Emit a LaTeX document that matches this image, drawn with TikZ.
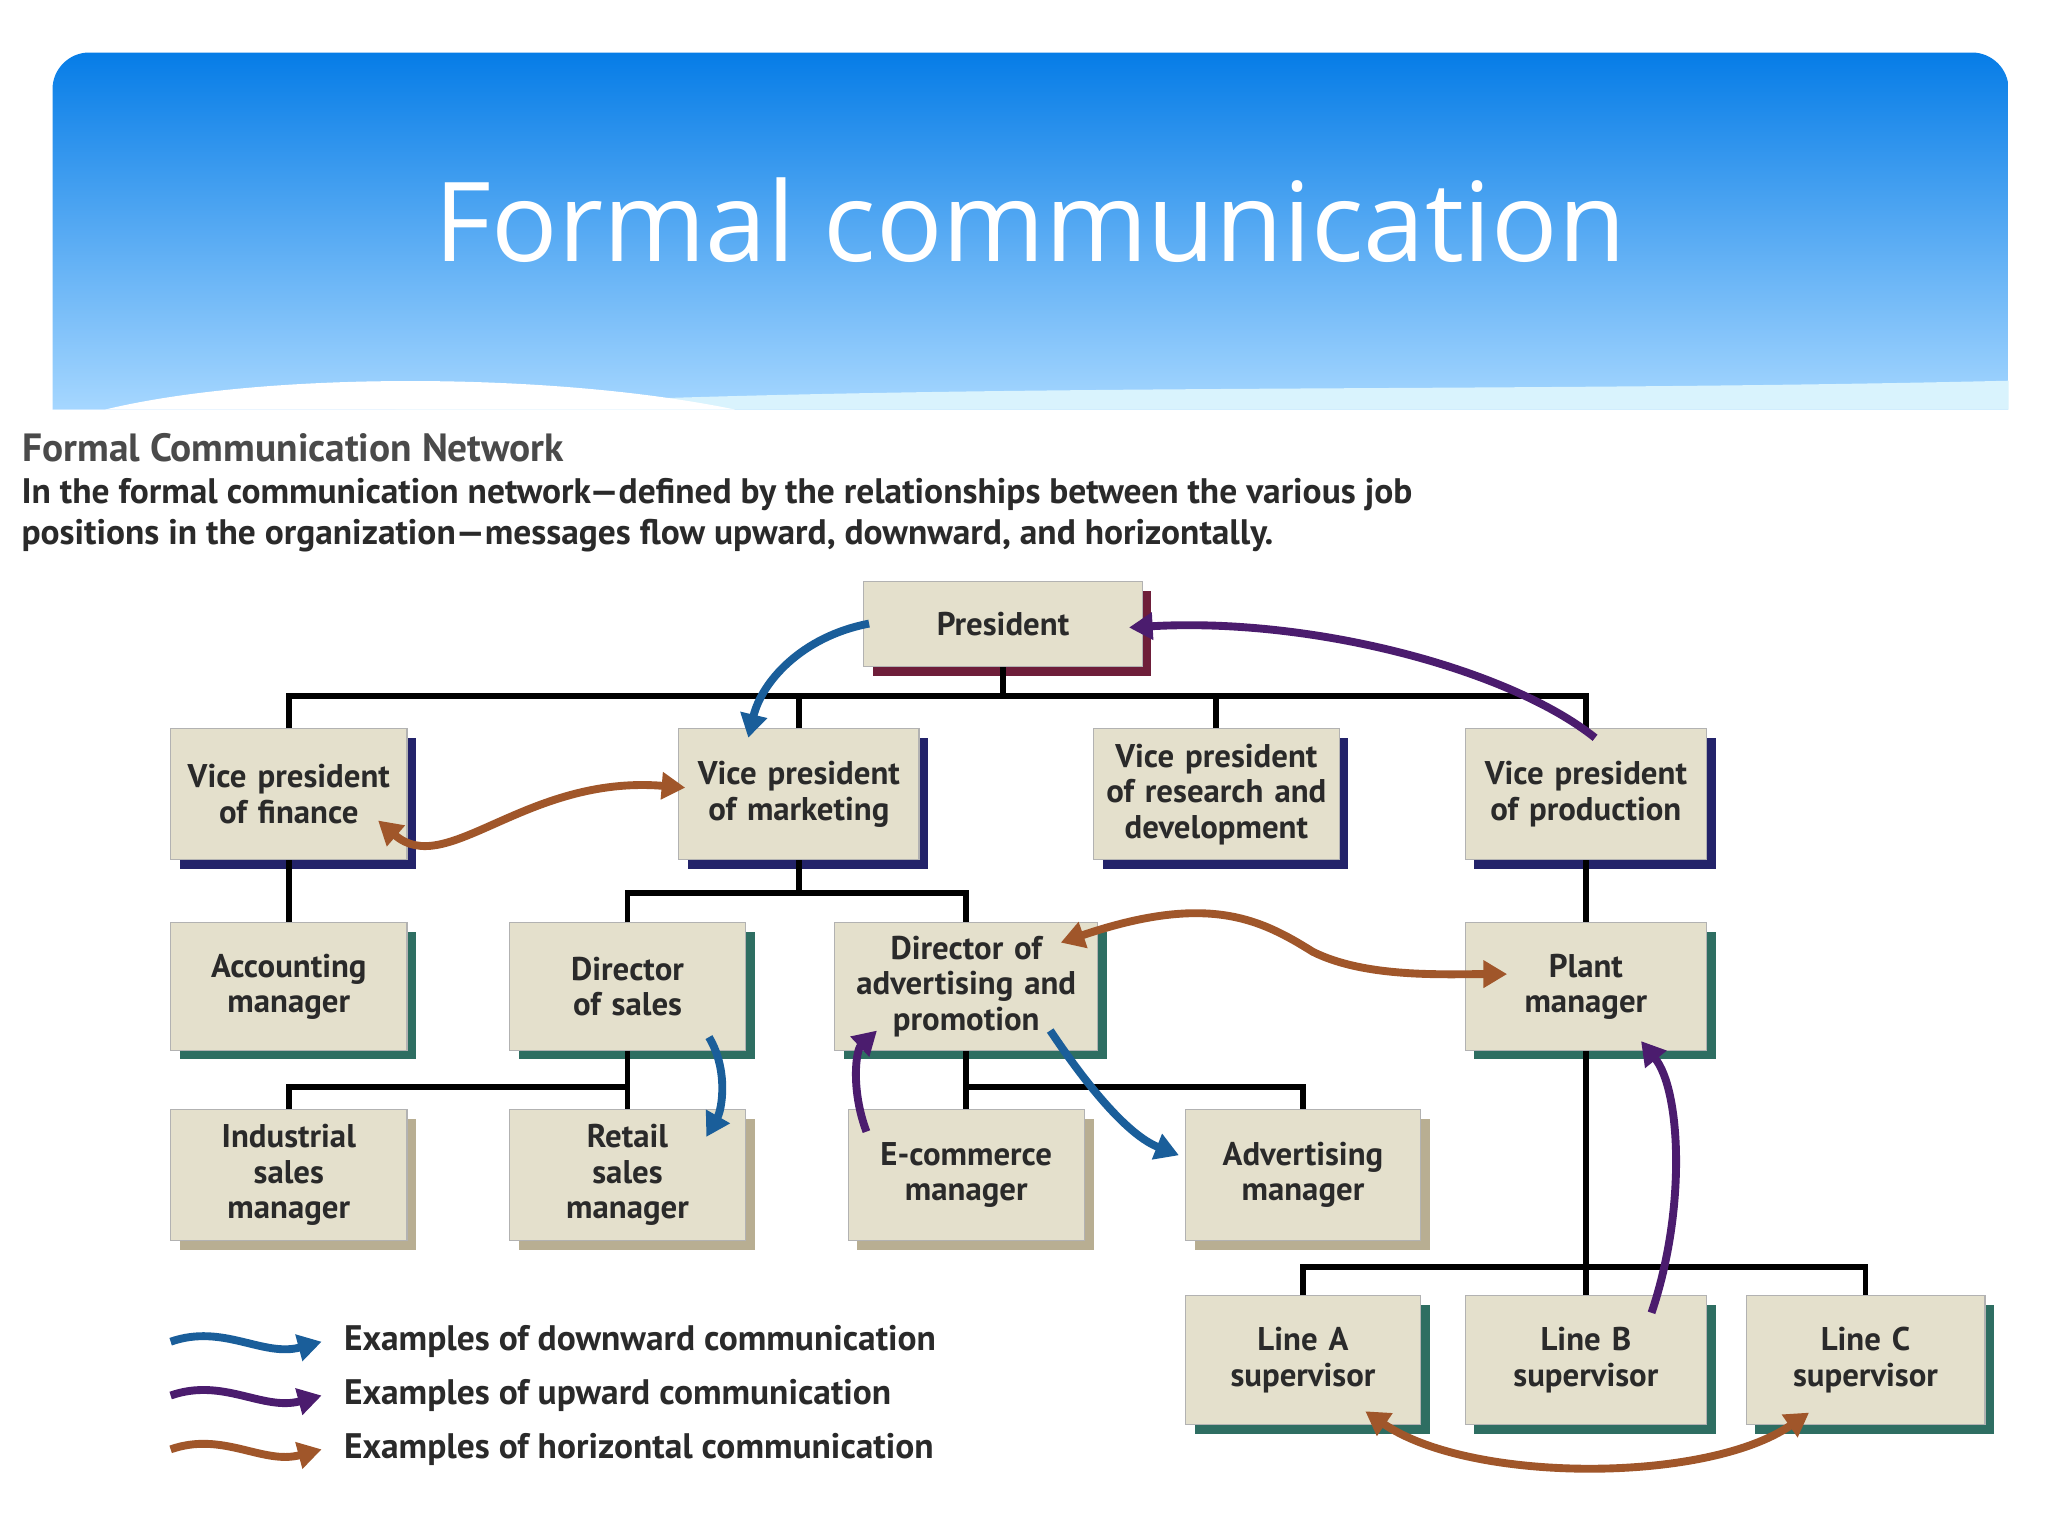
\documentclass[tikz,border=0pt]{standalone}
\usepackage{fontspec}
\setmainfont{PT Sans}
\newfontfamily\tfont{Open Sans}
\usetikzlibrary{shadows,arrows.meta}
\definecolor{boxf}{HTML}{E4E0CC}
\definecolor{shM}{HTML}{6E1E3A}
\definecolor{shN}{HTML}{23236A}
\definecolor{shT}{HTML}{2E6E62}
\definecolor{shB}{HTML}{B8AE92}
\definecolor{cdown}{HTML}{1A5E9A}
\definecolor{cup}{HTML}{4B1C6E}
\definecolor{chor}{HTML}{A0562A}
\definecolor{txt}{HTML}{2A2A2A}
\tikzset{
  box/.style={fill=boxf,draw=gray!60,line width=0.4pt,align=center,inner sep=1pt,
    font=\bfseries\fontsize{12.5}{13.5}\selectfont,text=txt},
  tree/.style={line width=2.2pt,black},
  comm/.style={line width=3pt,-{Triangle[length=9pt,width=10pt]}},
  comm2/.style={line width=3pt,{Triangle[length=9pt,width=10pt]}-{Triangle[length=9pt,width=10pt]}},
}
\newcommand\bx[7]{\node[box,general shadow={fill=#6,shadow xshift=3.5pt,shadow yshift=-3.5pt},
  minimum width={(#4-#2)*0.5pt},minimum height={(#5-#3)*0.5pt},text width={(#4-#2)*0.5pt-4pt}]
  (#1) at ({(#2+#4)/2},{(#3+#5)/2}) {#7};}
\begin{document}
\begin{tikzpicture}[x=0.5pt,y=-0.5pt]
\useasboundingbox (0,0) rectangle (1560,1170);
\fill[white] (0,0) rectangle (1560,1170);
\shade[top color=cdown!40!blue!60!cyan,bottom color=cyan!55!blue!35!white]
  (40,312) [rounded corners=14] -- (40,40) -- (1530,40) [sharp corners] -- (1530,312) -- cycle;
\fill[white!85!cyan] (300,312) .. controls (700,290) and (1100,300) .. (1530,290) -- (1530,312) -- cycle;
\fill[white] (40,312) -- (80,312) .. controls (200,283) and (420,283) .. (560,312) -- cycle;
\node[text=white,font=\tfont\fontsize{42}{48}\selectfont] (title) at (785,168) {Formal communication};
\node[anchor=west,font=\bfseries\fontsize{15}{17}\selectfont,text=txt!85] (h) at (10,341) {Formal Communication Network};
\node[anchor=north west,align=left,font=\bfseries\fontsize{13.5}{15.5}\selectfont,text=txt,inner sep=0pt] (sub) at (16,364)
 {In the formal communication network---defined by the relationships between the various job\\positions in the organization---messages flow upward, downward, and horizontally.};
% boxes
\bx{pres}{658}{443}{870}{508}{shM}{President}
\bx{vpf}{130}{555}{310}{655}{shN}{Vice president\\of finance}
\bx{vpm}{517}{555}{700}{655}{shN}{Vice president\\of marketing}
\bx{vpr}{833}{555}{1020}{655}{shN}{Vice president\\of research and\\development}
\bx{vpp}{1116}{555}{1300}{655}{shN}{Vice president\\of production}
\bx{acc}{130}{703}{310}{800}{shT}{Accounting\\manager}
\bx{dos}{388}{703}{568}{800}{shT}{Director\\of sales}
\bx{doa}{636}{703}{836}{800}{shT}{Director of\\advertising and\\promotion}
\bx{pm}{1116}{703}{1300}{800}{shT}{Plant\\manager}
\bx{ism}{130}{845}{310}{945}{shB}{Industrial\\sales\\manager}
\bx{rsm}{388}{845}{568}{945}{shB}{Retail\\sales\\manager}
\bx{ecm}{646}{845}{826}{945}{shB}{E-commerce\\manager}
\bx{adm}{903}{845}{1082}{945}{shB}{Advertising\\manager}
\bx{la}{903}{987}{1082}{1085}{shT}{Line A\\supervisor}
\bx{lb}{1116}{987}{1300}{1085}{shT}{Line B\\supervisor}
\bx{lc}{1330}{987}{1512}{1085}{shT}{Line C\\supervisor}
% tree
\coordinate (b1) at (0,530); \coordinate (b2) at (0,680);
\coordinate (b3) at (0,828); \coordinate (b4) at (0,965);
\draw[tree] (pres.south) -- (pres.south|-b1);
\draw[tree] (vpf.north) -- (vpf.north|-b1) -- (vpp.north|-b1) -- (vpp.north);
\draw[tree] (vpm.north) -- (vpm.north|-b1);
\draw[tree] (vpr.north) -- (vpr.north|-b1);
\draw[tree] (vpf.south) -- (acc.north);
\draw[tree] (vpm.south) -- (vpm.south|-b2);
\draw[tree] (dos.north) -- (dos.north|-b2) -- (doa.north|-b2) -- (doa.north);
\draw[tree] (dos.south) -- (dos.south|-b3);
\draw[tree] (ism.north) -- (ism.north|-b3) -- (rsm.north|-b3) -- (rsm.north);
\draw[tree] (doa.south) -- (doa.south|-b3);
\draw[tree] (ecm.north) -- (ecm.north|-b3) -- (adm.north|-b3) -- (adm.north);
\draw[tree] (vpp.south) -- (pm.north);
\draw[tree] (pm.south) -- (pm.south|-b4);
\draw[tree] (la.north) -- (la.north|-b4) -- (lc.north|-b4) -- (lc.north);
\draw[tree] (lb.north) -- (lb.north|-b4);
% communication arrows
\coordinate (a1) at (662,475); \coordinate (a2) at (570,562);
\draw[comm,cdown] (a1) .. controls (610,485) and (580,520) .. (a2);
\coordinate (a3) at (1215,562); \coordinate (a4) at (860,478);
\draw[comm,cup] (a3) .. controls (1150,510) and (1000,470) .. (a4);
\coordinate (a5) at (288,625); \coordinate (a6) at (522,600);
\draw[comm2,chor] (a5) .. controls (340,670) and (400,590) .. (a6);
\coordinate (a7) at (808,718); \coordinate (a8) at (1148,742);
\draw[comm2,chor] (a7) .. controls (920,680) and (960,700) .. (1000,725) .. controls (1040,745) and (1100,742) .. (a8);
\coordinate (a9) at (540,790); \coordinate (a10) at (538,866);
\draw[comm,cdown] (a9) .. controls (555,815) and (550,845) .. (a10);
\coordinate (a11) at (660,862); \coordinate (a12) at (668,785);
\draw[comm,cup] (a11) .. controls (648,830) and (652,800) .. (a12);
\coordinate (a13) at (800,785); \coordinate (a14) at (898,880);
\draw[comm,cdown] (a13) .. controls (830,830) and (860,865) .. (a14);
\coordinate (a15) at (1258,1000); \coordinate (a16) at (1250,793);
\draw[comm,cup] (a15) .. controls (1285,920) and (1280,830) .. (a16);
\coordinate (a17) at (1040,1075); \coordinate (a18) at (1378,1076);
\draw[comm2,chor] (a17) .. controls (1120,1130) and (1300,1130) .. (a18);
% legend
\foreach \c/\yy/\t [count=\i] in {cdown/1022/downward,cup/1063/upward,chor/1104/horizontal}{
  \coordinate (ls\i) at (130,\yy); \coordinate (le\i) at (245,\yy);
  \draw[comm,\c] (ls\i) .. controls (170,\yy-14) and (200,\yy+12) .. (le\i);
  \node[anchor=west,font=\bfseries\fontsize{13.5}{15}\selectfont,text=txt] (lt\i) at (255,\yy) {Examples of \t\ communication};
}
\end{tikzpicture}
\end{document}
